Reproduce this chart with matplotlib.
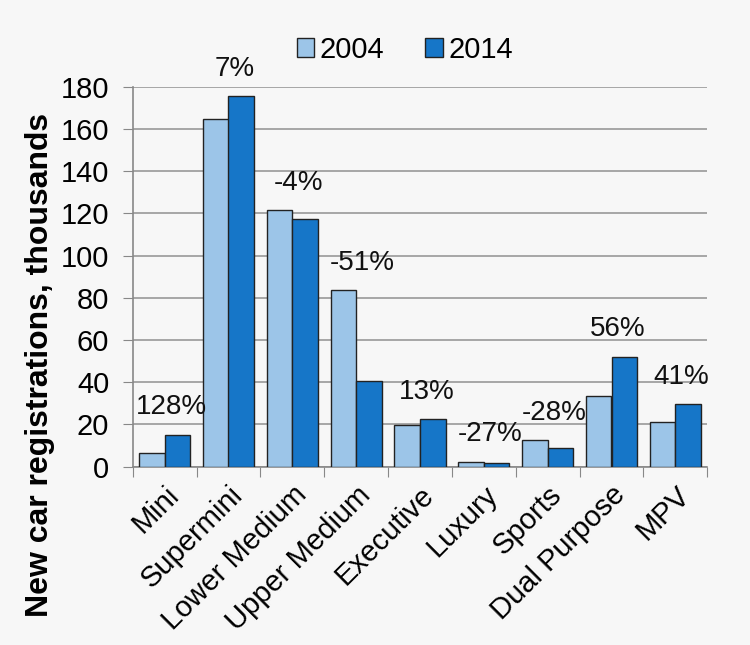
import matplotlib.pyplot as plt
import numpy as np

plt.rcParams['font.family'] = ['Liberation Sans', 'DejaVu Sans']

categories = ["Mini", "Supermini", "Lower Medium", "Upper Medium", "Executive",
              "Luxury", "Sports", "Dual Purpose", "MPV"]
reg_2004 = [6.6, 164.5, 121.6, 83.7, 19.8, 2.4, 12.6, 33.6, 21.0]
reg_2014 = [15.2, 175.6, 117.2, 40.6, 22.4, 1.6, 8.7, 52.1, 29.5]
changes = ["128%", "7%", "-4%", "-51%", "13%", "-27%", "-28%", "56%", "41%"]

bg = "#f7f7f7"
light = "#9cc5e8"
dark = "#1676c8"

fig = plt.figure(figsize=(7.5, 6.45), dpi=100, facecolor=bg)
ax = fig.add_axes([0.177, 0.2764, 0.766, 0.5892], facecolor=bg)

x = np.arange(len(categories))
w = 0.4
ax.bar(x - w / 2, reg_2004, w, color=light, edgecolor="#222222", linewidth=1, label="2004", zorder=3)
ax.bar(x + w / 2, reg_2014, w, color=dark, edgecolor="#222222", linewidth=1, label="2014", zorder=3)

for i, lab in enumerate(changes):
    top = max(reg_2004[i], reg_2014[i])
    ax.text(x[i] + 0.1, top + 13, lab, ha="center", va="center", fontsize=20, color="#111111", zorder=4)

ax.set_xlim(-0.5, len(categories) - 0.5)
ax.set_ylim(0, 180)
ax.set_yticks(range(0, 181, 20))
ax.tick_params(axis="y", labelsize=21, length=7, color="#888888", pad=10)
ax.yaxis.grid(True, color="#999999", linewidth=1.2, zorder=0)

# ticks between the categories
ax.set_xticks(np.arange(-0.5, len(categories), 1.0))
ax.set_xticklabels([])
ax.tick_params(axis="x", length=7, color="#888888")
ax.set_xticks(x, minor=True)
ax.set_xticklabels(categories, minor=True, rotation=45, ha="right", va="top",
                   rotation_mode="anchor", fontsize=21)
ax.tick_params(axis="x", which="minor", length=0, pad=10)

for s in ["top", "right"]:
    ax.spines[s].set_visible(False)
for s in ["left", "bottom"]:
    ax.spines[s].set_color("#888888")
    ax.spines[s].set_linewidth(1.2)

fig.text(40 / 750, 1 - 365 / 645, "New car registrations, thousands", rotation=90,
         ha="center", va="center", fontsize=23, fontweight="bold")

fig.legend(loc="center", bbox_to_anchor=(405 / 750, 1 - 50 / 645), ncol=2, frameon=False,
           fontsize=21, handlelength=0.6, handleheight=0.6, handletextpad=0.2, columnspacing=1.4)

fig.savefig("out.png", dpi=100, facecolor=bg)
